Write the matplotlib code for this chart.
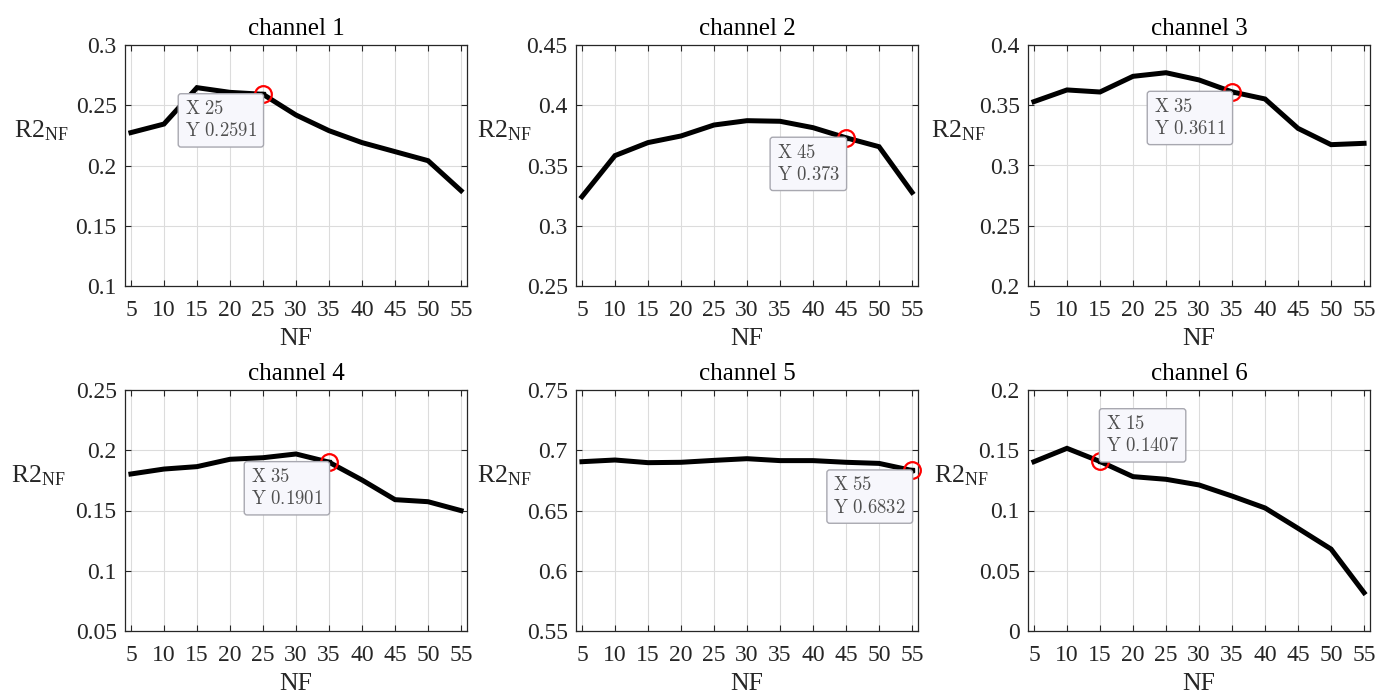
import matplotlib
matplotlib.use("Agg")
import matplotlib.pyplot as plt
from matplotlib.ticker import FuncFormatter

plt.rcParams['font.family'] = ['Liberation Serif', 'DejaVu Serif']
plt.rcParams['mathtext.fontset'] = 'custom'
plt.rcParams['mathtext.rm'] = 'Liberation Serif'
plt.rcParams['mathtext.it'] = 'Liberation Serif:italic'

nf = [5, 10, 15, 20, 25, 30, 35, 40, 45, 50, 55]
titles = ['channel 1', 'channel 2', 'channel 3', 'channel 4', 'channel 5', 'channel 6']
ch1 = [0.2273, 0.2344, 0.2646, 0.2607, 0.2591, 0.2419, 0.2289, 0.2190, 0.2115, 0.2040, 0.1791]
ch2 = [0.3241, 0.3582, 0.3690, 0.3745, 0.3836, 0.3872, 0.3867, 0.3814, 0.3730, 0.3656, 0.3277]
ch3 = [0.3530, 0.3627, 0.3610, 0.3740, 0.3770, 0.3710, 0.3611, 0.3552, 0.3308, 0.3173, 0.3184]
ch4 = [0.1803, 0.1844, 0.1864, 0.1925, 0.1938, 0.1969, 0.1901, 0.1753, 0.1590, 0.1573, 0.1499]
ch5 = [0.6905, 0.6919, 0.6897, 0.6900, 0.6916, 0.6930, 0.6914, 0.6914, 0.6900, 0.6891, 0.6832]
ch6 = [0.1405, 0.1516, 0.1407, 0.1281, 0.1259, 0.1212, 0.1120, 0.1021, 0.0852, 0.0680, 0.0318]
series = [ch1, ch2, ch3, ch4, ch5, ch6]
ylims = [(0.1, 0.3), (0.25, 0.45), (0.2, 0.4), (0.05, 0.25), (0.55, 0.75), (0.0, 0.2)]
tip_x = [25, 45, 35, 35, 55, 15]

# layout
fig = plt.figure(figsize=(13.9, 6.95), dpi=100)
lefts = [125/1390, 576/1390, 1028/1390]
bottoms = [1 - 286/695, 1 - 631/695]
w, h = 342/1390, 241/695
label_x = [-0.244, -0.209, -0.205, -0.253, -0.209, -0.195]
tip_place = ['ll', 'll', 'll', 'll', 'll', 'ur']

for i in range(6):
    r, c = divmod(i, 3)
    ax = fig.add_axes([lefts[c], bottoms[r], w, h])
    y = series[i]
    ax.plot(nf, y, color='black', lw=3.6, solid_joinstyle='miter', zorder=3)
    ax.set_xlim(4.1, 55.9)
    ax.set_ylim(*ylims[i])
    ax.set_xticks(nf)
    lo, hi = ylims[i]
    ax.set_yticks([lo + k * 0.05 for k in range(5)])
    ax.yaxis.set_major_formatter(FuncFormatter(lambda v, p: '%g' % round(v, 4)))
    ax.grid(True, color='#dcdcdc', lw=0.8, zorder=0)
    ax.tick_params(direction='in', length=4, width=0.8, colors='#262626',
                   labelsize=17, top=True, right=True)
    ax.tick_params(axis='x', pad=10)
    ax.tick_params(axis='y', pad=6)
    for s in ax.spines.values():
        s.set_color('#262626')
        s.set_linewidth(0.9)
    ax.set_title(titles[i], fontsize=18, pad=7, color='black')
    ax.set_xlabel('NF', fontsize=18.5, labelpad=5, color='#262626')
    ax.set_ylabel(r'R2$_{\mathrm{NF}}$', fontsize=18.5, rotation=0, color='#262626',
                  ha='center', va='center')
    ax.yaxis.set_label_coords(label_x[i], 0.645)

    # data tip
    xi = tip_x[i]
    yi = y[nf.index(xi)]
    ax.plot([xi], [yi], marker='o', ms=12, mfc='none', mec='red', mew=1.6,
            zorder=5, clip_on=False)
    ax.plot([xi], [yi], marker='s', ms=3, color='black', zorder=6, clip_on=False)
    ystr = ('%.4f' % yi).rstrip('0')
    txt = r'$\mathrm{X\ %g}$' % xi + '\n' + r'$\mathrm{Y\ %s}$' % ystr
    if tip_place[i] == 'll':
        off, ha, va = (-6, -6), 'right', 'top'
    else:
        off, ha, va = (6, 6), 'left', 'bottom'
    ax.annotate(txt, xy=(xi, yi), xytext=off, textcoords='offset pixels',
                ha=ha, va=va, multialignment='left', fontsize=13.5,
                math_fontfamily='cm', color='#505050', linespacing=1.3,
                bbox=dict(boxstyle='round,pad=0.35,rounding_size=0.15',
                          fc='#f7f7fc', ec='#a8a8b0', lw=1.0),
                zorder=7)

fig.savefig('out.png', dpi=100)
